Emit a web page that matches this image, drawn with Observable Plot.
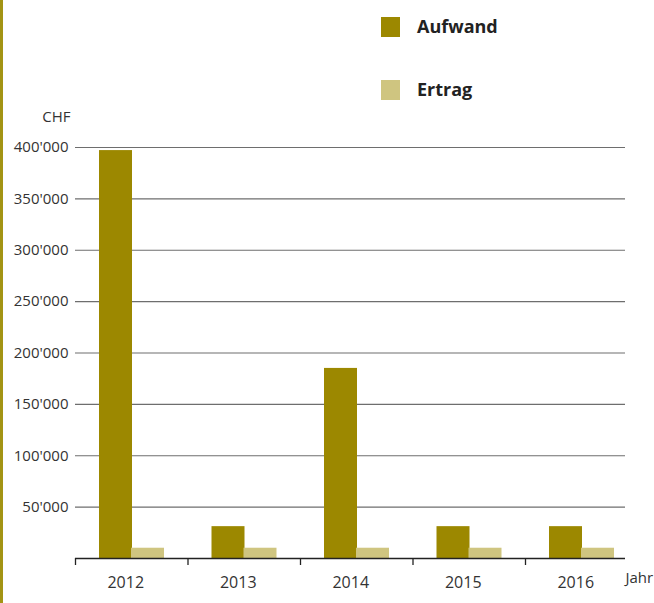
<!DOCTYPE html>
<html>
<head>
<meta charset="utf-8">
<script src="https://cdn.jsdelivr.net/npm/d3@7"></script>
<script src="https://cdn.jsdelivr.net/npm/@observablehq/plot@0.6"></script>
<style>
  body { margin: 0; background: #fff; }
  #wrap { position: relative; width: 654px; height: 603px; overflow: hidden; font-family: "Open Sans", sans-serif; }
  #bar { position: absolute; left: 0; top: 0; width: 3px; height: 603px; background: #a39414; }
  .lg { position: absolute; left: 381px; width: 19px; height: 20px; }
  .lt { position: absolute; left: 417px; font-weight: bold; font-size: 18px; line-height: 20px; color: #222; }
</style>
</head>
<body>
<div id="wrap"></div>
<script>
const years = ["2012", "2013", "2014", "2015", "2016"];
const aufwand = [397000, 31000, 185000, 31000, 31000];
const ertrag = [10000, 10000, 10000, 10000, 10000];
const series = ["Aufwand", "Ertrag"];
const colors = ["#9c8800", "#cfc580"];
const yTicks = [50000, 100000, 150000, 200000, 250000, 300000, 350000, 400000];
const yUnit = "CHF";
const xUnit = "Jahr";

const data = years.map((y, i) => ({year: y, aufwand: aufwand[i], ertrag: ertrag[i]}));
const fmt = d => d3.format(",")(d).replace(/,/g, "'");

const chart = Plot.plot({
  width: 654,
  height: 603,
  marginLeft: 75,
  marginRight: 29,
  marginTop: 147,
  marginBottom: 45,
  style: {fontFamily: "Open Sans, sans-serif", fontSize: "15px", color: "#333", background: "transparent"},
  x: {domain: years, range: [75, 637.5], padding: 0, round: false, label: null},
  y: {domain: [0, 400000], label: null},
  marks: [
    Plot.ruleY(yTicks, {stroke: "#6e6e6e", strokeWidth: 1.2}),
    Plot.barY(data, {x: "year", y: "aufwand", fill: colors[0], insetLeft: 24, insetRight: 55.5}),
    Plot.barY(data, {x: "year", y: "ertrag", fill: colors[1], insetLeft: 56, insetRight: 23.5}),
    Plot.ruleY([0], {stroke: "#222", strokeWidth: 1.3}),
    Plot.axisX({tickSize: 7, tickFormat: () => "", dx: -56.25, stroke: "#222", strokeWidth: 1.3, label: null}),
    Plot.axisX({tickSize: 0, tickPadding: 18, dx: -6, fontSize: 16, fill: "#333", label: null}),
    Plot.axisY(yTicks, {tickSize: 0, tickPadding: 7, tickFormat: fmt, fontSize: 15, fill: "#333", label: null}),
    Plot.text([yUnit], {frameAnchor: "top-left", textAnchor: "end", dx: -5, dy: -36, fontSize: 15, fill: "#333"}),
    Plot.text([xUnit], {frameAnchor: "bottom-right", textAnchor: "start", dx: 0, dy: 24, fontSize: 15, fill: "#333"})
  ]
});

const wrap = document.getElementById("wrap");
wrap.appendChild(chart);
const bar = document.createElement("div");
bar.id = "bar";
wrap.appendChild(bar);
const tops = [17, 80];
series.forEach((s, i) => {
  const sw = document.createElement("div");
  sw.className = "lg";
  sw.style.top = tops[i] + "px";
  sw.style.background = colors[i];
  wrap.appendChild(sw);
  const t = document.createElement("div");
  t.className = "lt";
  t.style.top = (tops[i] - 1) + "px";
  t.textContent = s;
  wrap.appendChild(t);
});
</script>
</body>
</html>
